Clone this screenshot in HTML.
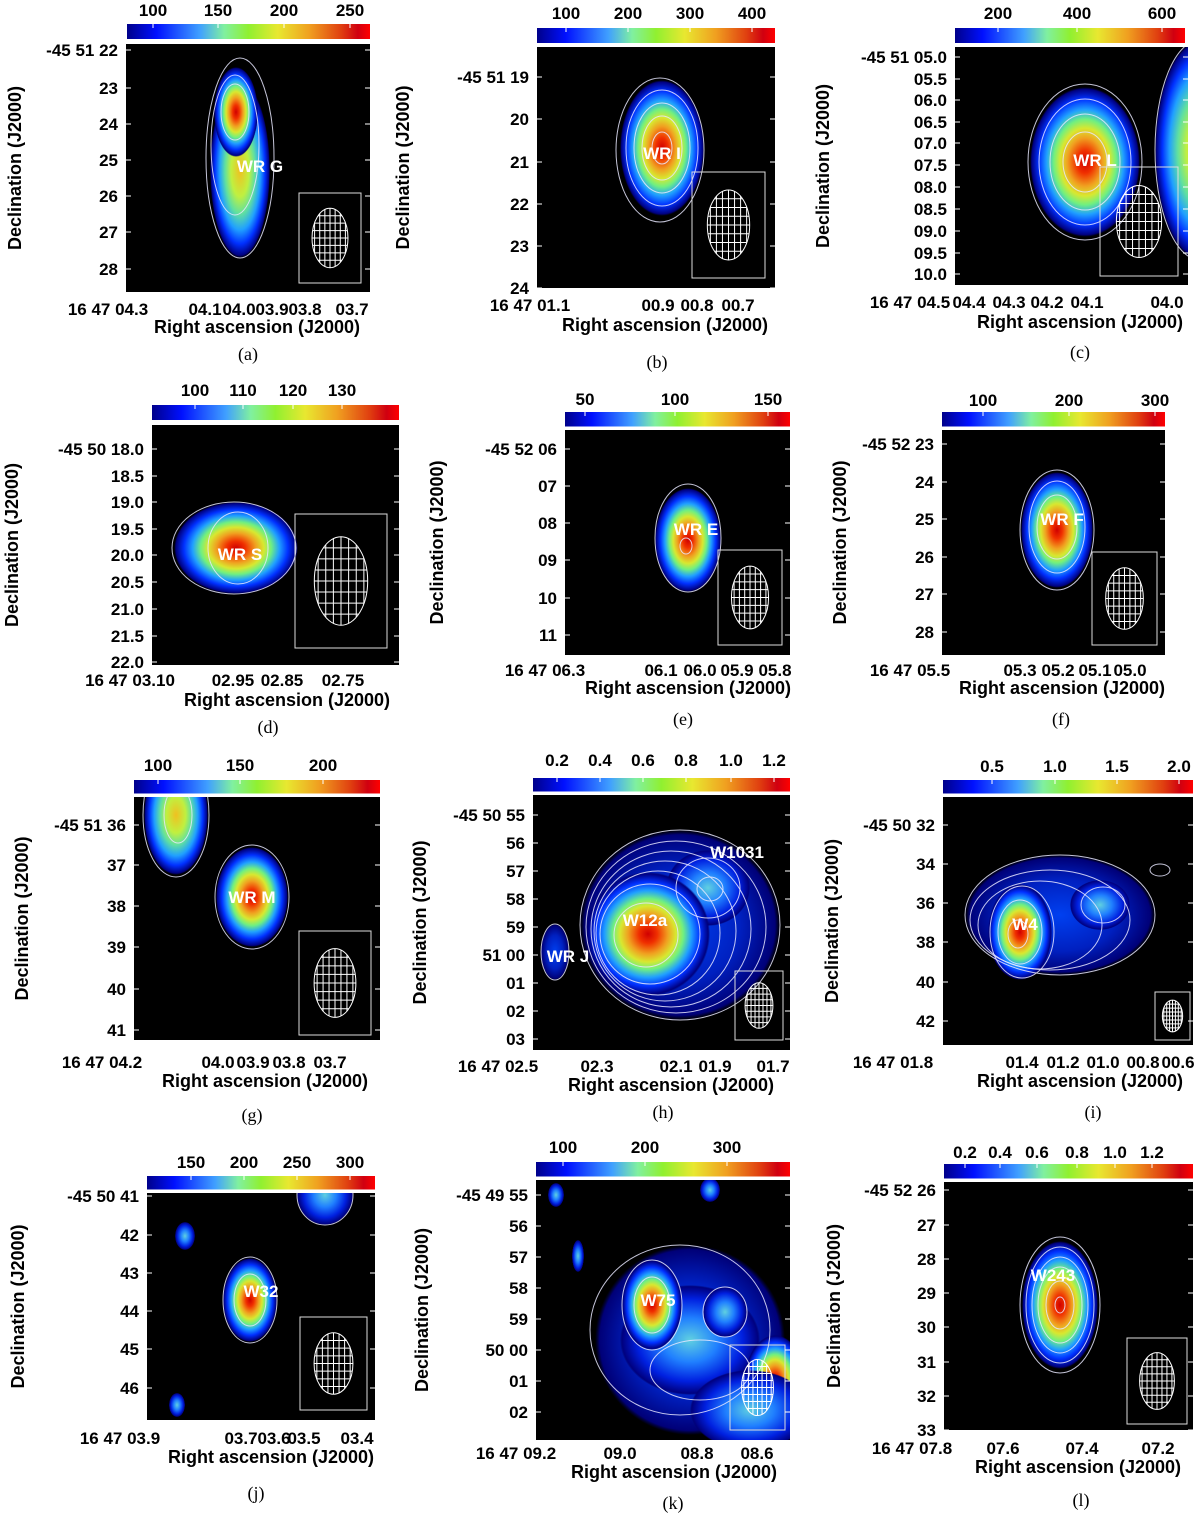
<!DOCTYPE html>
<html><head><meta charset="utf-8">
<style>
html,body{margin:0;padding:0;background:#fff;}
svg{display:block;}
.t{font-family:"Liberation Sans",sans-serif;font-weight:bold;font-size:17px;fill:#000;}
.ti{font-family:"Liberation Sans",sans-serif;font-weight:bold;font-size:18px;fill:#000;}
.cap{font-family:"Liberation Serif",serif;font-size:18px;fill:#000;}
.lab{font-family:"Liberation Sans",sans-serif;font-weight:bold;font-size:17px;fill:#fff;}
</style></head>
<body>
<svg id="fig" width="1200" height="1520" viewBox="0 0 1200 1520" xmlns="http://www.w3.org/2000/svg">
<defs>
<linearGradient id="jet" x1="0" x2="1" y1="0" y2="0">
<stop offset="0" stop-color="#00008a"/><stop offset="0.12" stop-color="#0010ff"/><stop offset="0.3" stop-color="#40a0ff"/>
<stop offset="0.4" stop-color="#80f0a0"/><stop offset="0.5" stop-color="#90f030"/><stop offset="0.62" stop-color="#e8e830"/>
<stop offset="0.75" stop-color="#f0a020"/><stop offset="0.88" stop-color="#e04010"/><stop offset="0.95" stop-color="#d00010"/><stop offset="1" stop-color="#ff0000"/>
</linearGradient>
<radialGradient id="g0"><stop offset="0" stop-color="#d00000"/><stop offset="0.15" stop-color="#f03000"/><stop offset="0.32" stop-color="#f0a020"/><stop offset="0.45" stop-color="#d8e830"/><stop offset="0.57" stop-color="#70f080"/><stop offset="0.7" stop-color="#20a0ff"/><stop offset="0.84" stop-color="#0030ff"/><stop offset="0.97" stop-color="#000080"/><stop offset="1" stop-color="#000060" stop-opacity="0"/></radialGradient>
<radialGradient id="g1"><stop offset="0" stop-color="#f0c020"/><stop offset="0.3" stop-color="#c0f040"/><stop offset="0.5" stop-color="#60e0a0"/><stop offset="0.68" stop-color="#20a0ff"/><stop offset="0.84" stop-color="#0030ff"/><stop offset="0.97" stop-color="#000080"/><stop offset="1" stop-color="#000060" stop-opacity="0"/></radialGradient>
<radialGradient id="g2"><stop offset="0" stop-color="#60d0e0"/><stop offset="0.4" stop-color="#2080ff"/><stop offset="0.75" stop-color="#0020e0"/><stop offset="0.97" stop-color="#000080"/><stop offset="1" stop-color="#000060" stop-opacity="0"/></radialGradient>
<radialGradient id="g3"><stop offset="0" stop-color="#0040f0"/><stop offset="0.6" stop-color="#0020c0"/><stop offset="0.95" stop-color="#000078"/><stop offset="1" stop-color="#000060" stop-opacity="0"/></radialGradient>
</defs>
</svg>
<script>
// Panel data: colour-bar tick labels, axis tick labels, captions
const cbTicks = {
 a:["100","150","200","250"], b:["100","200","300","400"], c:["200","400","600"],
 d:["100","110","120","130"], e:["50","100","150"], f:["100","200","300"],
 g:["100","150","200"], h:["0.2","0.4","0.6","0.8","1.0","1.2"], i:["0.5","1.0","1.5","2.0"],
 j:["150","200","250","300"], k:["100","200","300"], l:["0.2","0.4","0.6","0.8","1.0","1.2"]
};
const decTicks = {
 a:["-45 51 22","23","24","25","26","27","28"],
 b:["-45 51 19","20","21","22","23","24"],
 c:["-45 51 05.0","05.5","06.0","06.5","07.0","07.5","08.0","08.5","09.0","09.5","10.0"],
 d:["-45 50 18.0","18.5","19.0","19.5","20.0","20.5","21.0","21.5","22.0"],
 e:["-45 52 06","07","08","09","10","11"],
 f:["-45 52 23","24","25","26","27","28"],
 g:["-45 51 36","37","38","39","40","41"],
 h:["-45 50 55","56","57","58","59","51 00","01","02","03"],
 i:["-45 50 32","34","36","38","40","42"],
 j:["-45 50 41","42","43","44","45","46"],
 k:["-45 49 55","56","57","58","59","50 00","01","02"],
 l:["-45 52 26","27","28","29","30","31","32","33"]
};
const raTicks = {
 a:["16 47 04.3","04.1","04.0","03.9","03.8","03.7"],
 b:["16 47 01.1","00.9","00.8","00.7"],
 c:["16 47 04.5","04.4","04.3","04.2","04.1","04.0"],
 d:["16 47 03.10","02.95","02.85","02.75"],
 e:["16 47 06.3","06.1","06.0","05.9","05.8"],
 f:["16 47 05.5","05.3","05.2","05.1","05.0"],
 g:["16 47 04.2","04.0","03.9","03.8","03.7"],
 h:["16 47 02.5","02.3","02.1","01.9","01.7"],
 i:["16 47 01.8","01.4","01.2","01.0","00.8","00.6"],
 j:["16 47 03.9","03.7","03.6","03.5","03.4"],
 k:["16 47 09.2","09.0","08.8","08.6"],
 l:["16 47 07.8","07.6","07.4","07.2"]
};
const srcLabels = {
 a:["WR G"], b:["WR I"], c:["WR L"], d:["WR S"], e:["WR E"], f:["WR F"],
 g:["WR M"], h:["W12a","W1031","WR J"], i:["W4"], j:["W32"], k:["W75"], l:["W243"]
};

// Layout (pixel geometry) — separate from data
const L = {
 a:{cb:[127,24,243,15],img:[126,44,244,248],cbx:[153,218,284,350],cby:16,dy:[50,88,124,160,196,232,269],rax:[108,205,239,272,305,352],ray:315,tx:257,ty:333,ylx:15,cap:[248,360],beam:[299,193,62,90],
    blobs:[[240,170,30,88,'g1'],[236,112,22,45,'g0']],labs:[[260,166]],cont:[[240,158,34,100],[235,145,24,70],[235,112,14,28]]},
 b:{cb:[537,28,238,15],img:[537,47,238,241],cbx:[566,628,690,752],cby:19,dy:[77,119,162,204,246,288],rax:[530,658,697,738],ray:311,tx:665,ty:331,ylx:403,cap:[657,368],beam:[692,172,73,106],
    blobs:[[662,148,42,68,'g0']],labs:[[662,153]],cont:[[660,150,44,72],[662,148,36,58],[662,148,28,45],[662,148,20,32],[662,148,10,16]]},
 c:{cb:[955,28,230,15],img:[955,47,233,238],cbx:[998,1077,1162],cby:19,dy:[57,79,100,122,143,165,187,209,231,253,274],rax:[910,969,1009,1047,1087,1167],ray:308,tx:1080,ty:328,ylx:823,cap:[1080,358],beam:[1100,167,78,109],
    blobs:[[1085,162,55,75,'g0'],[1200,150,45,110,'g1']],labs:[[1095,160]],cont:[[1085,162,57,78],[1085,162,46,63],[1085,162,35,48],[1085,162,22,30],[1200,150,45,110]]},
 d:{cb:[152,405,247,15],img:[152,425,247,240],cbx:[195,243,293,342],cby:396,dy:[449,476,502,529,555,582,609,636,662],rax:[130,233,282,343],ray:686,tx:287,ty:706,ylx:12,cap:[268,733],beam:[295,514,92,134],
    blobs:[[236,548,62,46,'g0']],labs:[[240,554]],cont:[[234,548,62,46],[238,548,30,36]]},
 e:{cb:[565,412,225,15],img:[565,430,225,225],cbx:[585,675,768],cby:405,dy:[449,486,523,560,598,635],rax:[545,661,700,737,775],ray:676,tx:688,ty:694,ylx:437,cap:[683,725],beam:[718,550,64,95],
    blobs:[[688,540,33,52,'g0']],labs:[[696,529]],cont:[[688,538,33,54],[686,546,6,8]]},
 f:{cb:[942,412,223,15],img:[942,430,223,225],cbx:[983,1069,1155],cby:406,dy:[444,482,519,557,594,632],rax:[910,1020,1058,1095,1130],ray:676,tx:1062,ty:694,ylx:840,cap:[1061,725],beam:[1092,552,65,93],
    blobs:[[1057,530,36,58,'g0']],labs:[[1062,519]],cont:[[1057,530,37,60],[1057,527,28,46],[1057,527,20,32]]},
 g:{cb:[134,780,246,15],img:[134,797,246,243],cbx:[158,240,323],cby:771,dy:[825,865,906,947,989,1030],rax:[102,218,253,289,330],ray:1068,tx:265,ty:1087,ylx:22,cap:[252,1121],beam:[299,931,72,104],
    blobs:[[252,897,36,50,'g0'],[176,815,32,60,'g1']],labs:[[252,897]],cont:[[252,897,37,52],[176,815,33,62],[178,815,14,28]]},
 h:{cb:[533,778,257,15],img:[533,795,257,255],cbx:[557,600,643,686,731,774],cby:766,dy:[815,843,871,899,927,955,983,1011,1039],rax:[498,597,676,715,773],ray:1072,tx:671,ty:1091,ylx:420,cap:[663,1118],beam:[735,971,48,69],
    blobs:[[680,925,100,95,'g3'],[708,888,42,38,'g2'],[648,934,62,62,'g0'],[555,952,14,28,'g3']],labs:[[645,920],[737,852],[568,956]],
    cont:[[680,925,100,95],[676,927,90,86],[671,929,80,78],[665,931,71,70],[658,933,62,62],[650,934,50,50],[646,935,32,32],[708,888,32,30],[710,889,13,12],[555,952,14,28]]},
 i:{cb:[943,780,250,15],img:[943,797,250,248],cbx:[992,1055,1117,1179],cby:772,dy:[825,864,903,942,982,1021],rax:[893,1022,1063,1103,1143,1178],ray:1068,tx:1080,ty:1087,ylx:832,cap:[1093,1118],beam:[1155,992,35,48],
    blobs:[[1060,915,95,60,'g3'],[1100,905,30,25,'g2'],[1020,932,32,48,'g0']],labs:[[1025,924]],
    cont:[[1060,915,95,60],[1050,920,80,50],[1040,925,62,44],[1022,932,32,46],[1020,932,22,32],[1018,934,10,14],[1103,905,22,18],[1160,870,10,6]]},
 j:{cb:[147,1176,228,15],img:[147,1193,228,227],cbx:[191,244,297,350],cby:1168,dy:[1196,1235,1273,1311,1349,1388],rax:[120,241,274,304,357],ray:1444,tx:271,ty:1463,ylx:18,cap:[256,1499],beam:[300,1317,67,93],
    blobs:[[250,1300,27,42,'g0'],[325,1195,28,30,'g2'],[185,1236,10,14,'g2'],[177,1405,8,12,'g2']],labs:[[261,1291]],cont:[[250,1300,27,43],[250,1300,16,26],[325,1195,28,30]]},
 k:{cb:[536,1162,254,15],img:[536,1180,254,260],cbx:[563,645,727],cby:1153,dy:[1195,1226,1257,1288,1319,1350,1381,1412],rax:[516,620,697,757],ray:1459,tx:674,ty:1478,ylx:422,cap:[673,1509],beam:[730,1345,55,85],
    blobs:[[690,1340,95,95,'g3'],[690,1340,70,55,'g2'],[652,1305,30,45,'g0'],[725,1312,22,25,'g2'],[775,1380,30,45,'g0'],[750,1410,60,40,'g2'],[556,1195,8,12,'g2'],[710,1190,10,12,'g2'],[578,1256,6,16,'g2']],labs:[[658,1300]],
    cont:[[680,1330,90,85],[652,1305,30,45],[652,1305,18,28],[725,1312,22,25],[700,1370,50,30]]},
 l:{cb:[944,1164,249,15],img:[944,1182,249,248],cbx:[965,1000,1037,1077,1115,1152],cby:1158,dy:[1190,1225,1259,1293,1327,1362,1396,1430],rax:[912,1003,1082,1158],ray:1454,tx:1078,ty:1473,ylx:834,cap:[1081,1506],beam:[1127,1338,60,86],
    blobs:[[1060,1305,38,64,'g0']],labs:[[1053,1275]],cont:[[1060,1305,40,68],[1060,1305,34,58],[1060,1305,28,48],[1060,1305,22,38],[1060,1305,14,24],[1060,1305,5,8]]}
};

const NS="http://www.w3.org/2000/svg";
const svg=document.getElementById('fig');
function mk(tag,attrs,parent){const e=document.createElementNS(NS,tag);for(const k in attrs)e.setAttribute(k,attrs[k]);(parent||svg).appendChild(e);return e;}

Object.keys(L).forEach(function(id){
 const p=L[id];
 const g=mk('g',{});
 
 
 const cb=mk('rect',{x:p.cb[0],y:p.cb[1],width:p.cb[2],height:p.cb[3],fill:'url(#jet)'},g);
 
 
 cbTicks[id].forEach(function(t,i){
  const tx=mk('text',{x:p.cbx[i],y:p.cby,'text-anchor':'middle',class:'t'},g);tx.textContent=t;
  
  
  mk('line',{x1:p.cbx[i],x2:p.cbx[i],y1:p.cb[1],y2:p.cb[1]+4,stroke:'#fff','stroke-width':1},g);
 });
 const im=p.img;
 const clip=mk('clipPath',{id:'cl'+id},g);
 mk('rect',{x:im[0],y:im[1],width:im[2],height:im[3]},clip);
 const bg=mk('rect',{x:im[0],y:im[1],width:im[2],height:im[3],fill:'#000'},g);
 
 
 const ig=mk('g',{'clip-path':'url(#cl'+id+')'},g);
 p.blobs.forEach(function(b){
  const e=mk('ellipse',{cx:b[0],cy:b[1],rx:b[2],ry:b[3],fill:'url(#'+b[4]+')'},ig);
  
  
 });
 p.cont.forEach(function(c){
  const e=mk('ellipse',{cx:c[0],cy:c[1],rx:c[2],ry:c[3],fill:'none',stroke:'#e8e8ff','stroke-width':1,opacity:0.85},ig);
  
  
 });
 mk('line',{x1:im[0],x2:im[0]+im[2],y1:im[1]-2,y2:im[1]-2,stroke:'#fff','stroke-width':3},g);
 const bm=p.beam;
 const bx=mk('rect',{x:bm[0],y:bm[1],width:bm[2],height:bm[3],fill:'none',stroke:'#ddd','stroke-width':1},ig);
 
 
 const cx=bm[0]+bm[2]/2,cy=bm[1]+bm[3]/2,rx=bm[2]*0.29,ry=bm[3]*0.33;
 const bc=mk('clipPath',{id:'bc'+id},g);
 mk('ellipse',{cx:cx,cy:cy,rx:rx,ry:ry},bc);
 const bg2=mk('g',{'clip-path':'url(#bc'+id+')'},ig);
 for(let k=-3;k<=3;k++){
  mk('line',{x1:cx+k*rx/3.5,x2:cx+k*rx/3.5,y1:cy-ry,y2:cy+ry,stroke:'#fff','stroke-width':1},bg2);
  mk('line',{x1:cx-rx,x2:cx+rx,y1:cy+k*ry/4,y2:cy+k*ry/4,stroke:'#fff','stroke-width':1},bg2);
 }
 const be=mk('ellipse',{cx:cx,cy:cy,rx:rx,ry:ry,fill:'none',stroke:'#fff','stroke-width':1},ig);
 
 
 srcLabels[id].forEach(function(t,i){
  const tx=mk('text',{x:p.labs[i][0],y:p.labs[i][1]+6,'text-anchor':'middle',class:'lab'},g);tx.textContent=t;
  
  
 });
 decTicks[id].forEach(function(t,i){
  const y=p.dy[i];
  const tx=mk('text',{x:im[0]-8,y:y+6,'text-anchor':'end',class:'t'},g);tx.textContent=t;
  
  
  mk('line',{x1:im[0],x2:im[0]+5,y1:y,y2:y,stroke:'#fff','stroke-width':1},g);
  mk('line',{x1:im[0]+im[2]-5,x2:im[0]+im[2],y1:y,y2:y,stroke:'#fff','stroke-width':1},g);
 });
 raTicks[id].forEach(function(t,i){
  const x=p.rax[i];
  const tx=mk('text',{x:x,y:p.ray,'text-anchor':'middle',class:'t'},g);tx.textContent=t;
  
  
 });
 const xt=mk('text',{x:p.tx,y:p.ty,'text-anchor':'middle',class:'ti'},g);xt.textContent='Right ascension (J2000)';
 
 
 const ym=im[1]+im[3]/2;
 const yt=mk('text',{x:p.ylx+6,y:ym,'text-anchor':'middle',class:'ti',transform:'rotate(-90 '+(p.ylx+6)+' '+ym+')'},g);yt.textContent='Declination (J2000)';
 
 
 const cap=mk('text',{x:p.cap[0],y:p.cap[1],'text-anchor':'middle',class:'cap'},g);cap.textContent='('+id+')';
 
 
});
</script>
</body></html>
